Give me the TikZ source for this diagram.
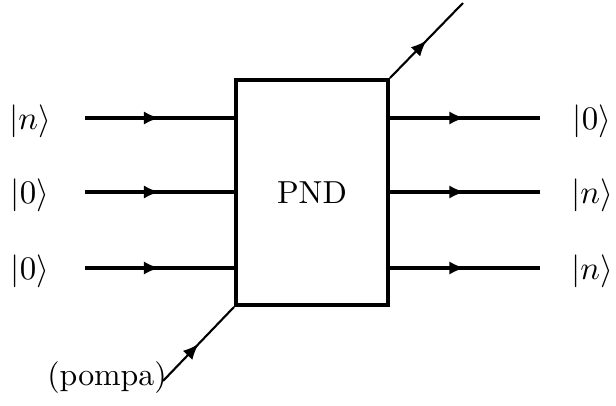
\documentclass[tikz,border=0pt]{standalone}
\usepackage{amsmath}
\usetikzlibrary{arrows.meta,decorations.markings}

\tikzset{
  midarrow/.style={line width=1pt,
    postaction={decorate},
    decoration={markings,mark=at position 0.5 with {\arrow{Latex[length=5.2pt,width=4.4pt]}}}},
  pumpline/.style={midarrow,line width=0.7pt},
  ketlabel/.style={inner sep=0pt}
}

\begin{document}
\begin{tikzpicture}[x=0.333pt,y=-0.333pt,every node/.style={font=\fontsize{10.6pt}{12.7pt}\selectfont}]
  \useasboundingbox (0,0) rectangle (616,406);

  % the device
  \node[draw,line width=1.3pt,minimum width=152*0.333pt,minimum height=225*0.333pt,inner sep=0pt] (pnd) at (312,192.5) {PND};

  % input modes
  \node[ketlabel] (in1) at (30,121) {$|n\rangle$};
  \node[ketlabel] (in2) at (30,195) {$|0\rangle$};
  \node[ketlabel] (in3) at (30,271) {$|0\rangle$};
  \coordinate (a1) at (85,118);
  \coordinate (a2) at (85,192);
  \coordinate (a3) at (85,268);
  \draw[midarrow] (a1) -- (pnd.west |- a1);
  \draw[midarrow] (a2) -- (pnd.west |- a2);
  \draw[midarrow] (a3) -- (pnd.west |- a3);

  % output modes
  \node[ketlabel] (out1) at (592,121) {$|0\rangle$};
  \node[ketlabel] (out2) at (592,195) {$|n\rangle$};
  \node[ketlabel] (out3) at (592,271) {$|n\rangle$};
  \coordinate (b1) at (540,118);
  \coordinate (b2) at (540,192);
  \coordinate (b3) at (540,268);
  \draw[midarrow] (pnd.east |- b1) -- (b1);
  \draw[midarrow] (pnd.east |- b2) -- (b2);
  \draw[midarrow] (pnd.east |- b3) -- (b3);

  % pump in, idler out
  \node[inner sep=0pt] (pompa) at (107,378) {(pompa)};
  \coordinate (p) at (163,381);
  \coordinate (q) at (463,3);
  \draw[pumpline] (p) -- (pnd.south west);
  \draw[pumpline] (pnd.north east) -- (q);
\end{tikzpicture}
\end{document}
